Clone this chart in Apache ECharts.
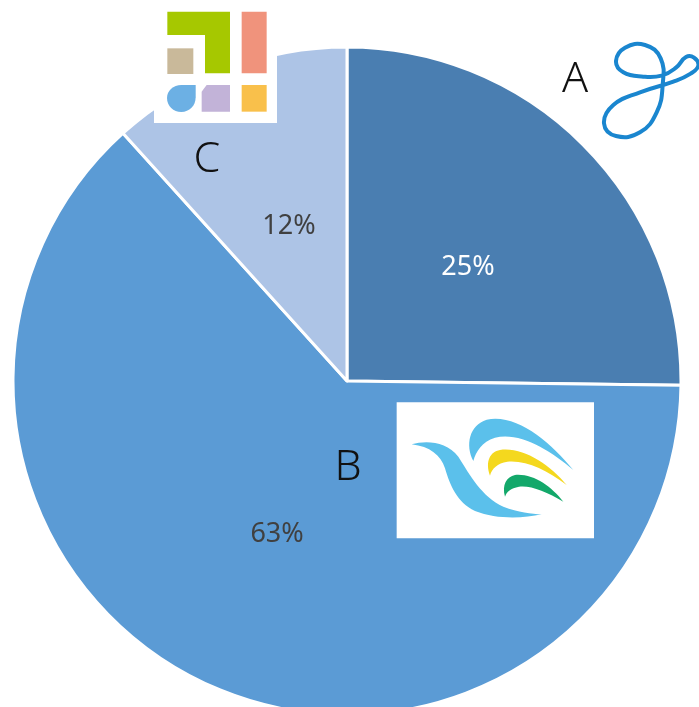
<!DOCTYPE html>
<html><head><meta charset="utf-8">
<script src="https://cdn.jsdelivr.net/npm/echarts@6/dist/echarts.min.js"></script>
<style>html,body{margin:0;padding:0;background:#fff;}#c{width:699px;height:707px;}</style>
</head><body><div id="c"></div>
<script>
var categories = ['A', 'B', 'C'];
var values = [25.2, 63.1, 11.7];
var sliceColors = ['#4a7eb1', '#5b9bd5', '#adc4e6'];
var labelColors = ['#ffffff', '#404040', '#404040'];
var labelOffsets = [[0, 6], [0, -2], [3, 4]];

var chart = echarts.init(document.getElementById('c'));
var data = categories.map(function (c, i) {
  return { name: c, value: values[i], itemStyle: { color: sliceColors[i] },
    label: { color: labelColors[i], offset: labelOffsets[i] } };
});

function logoC() {
  return { type: 'group', x: 150, y: 0, scaleX: 1 / 3, scaleY: 1 / 3, children: [
    { type: 'rect', shape: { x: 12, y: 0, width: 369, height: 369 }, style: { fill: '#ffffff' } },
    { type: 'polygon', shape: { points: [[52,35],[240,35],[240,220],[165,220],[165,105],[52,105]] }, style: { fill: '#a6c800' } },
    { type: 'rect', shape: { x: 275, y: 35, width: 75, height: 185 }, style: { fill: '#f0937c' } },
    { type: 'rect', shape: { x: 52, y: 145, width: 78, height: 77 }, style: { fill: '#c9b99a' } },
    { type: 'path', shape: { pathData: 'M137,255 L137,292 C137,318 118,336 94,336 C70,336 51,318 51,294 C51,272 70,255 94,255 Z' }, style: { fill: '#6cb0e4' } },
    { type: 'path', shape: { pathData: 'M170,255 L240,255 L240,335 L155,335 L155,275 C160,268 165,262 170,255 Z' }, style: { fill: '#c2b3d8' } },
    { type: 'rect', shape: { x: 275, y: 255, width: 75, height: 80 }, style: { fill: '#f9c04b' } }
  ]};
}
function logoA() {
  var pts = [[100,112],[160,125],[215,122],[258,98],[288,66],[312,68],[325,92],[302,116],[250,140],[150,172],[70,210],[42,265],[78,303],[150,292],[200,232],[218,150],[212,70],[165,30],[105,38],[78,78]];
  return { type: 'group', x: 590, y: 35, scaleX: 1 / 3, scaleY: 1 / 3, children: [
    { type: 'polygon', shape: { points: pts, smooth: 0.45 },
      style: { fill: 'none', stroke: '#1a86cf', lineWidth: 12 } }
  ]};
}
function logoB() {
  return { type: 'group', x: 390, y: 395, scaleX: 1 / 3, scaleY: 1 / 3, children: [
    { type: 'rect', shape: { x: 20, y: 22, width: 592, height: 408 }, style: { fill: '#ffffff' } },
    { type: 'path', shape: { pathData: 'M65,148 C110,135 170,140 205,185 C240,240 275,305 340,335 C385,352 425,356 455,358 C400,370 320,374 255,348 C200,322 180,270 165,220 C152,180 120,155 65,148 Z' }, style: { fill: '#5bc0eb' } },
    { type: 'path', shape: { pathData: 'M250,198 C225,150 238,90 290,74 C380,55 480,140 550,225 C480,165 390,110 315,128 C275,140 258,170 250,198 Z' }, style: { fill: '#5bc0eb' } },
    { type: 'path', shape: { pathData: 'M300,242 C285,200 300,170 330,165 C400,155 480,210 530,270 C470,225 410,195 352,200 C322,205 306,220 300,242 Z' }, style: { fill: '#f4d81e' } },
    { type: 'path', shape: { pathData: 'M345,305 C335,270 350,245 375,240 C430,235 485,275 520,320 C470,290 420,270 387,275 C362,280 350,290 345,305 Z' }, style: { fill: '#13a86a' } }
  ]};
}
var catPos = [[575, 80], [348, 468], [207, 160]];
var catTexts = categories.map(function (c, i) {
  return { type: 'text', x: catPos[i][0], y: catPos[i][1],
    style: { text: c, font: '300 43px "Noto Sans"', fill: '#111111', textAlign: 'center', textVerticalAlign: 'middle' } };
});

chart.setOption({
  animation: false,
  series: [{
    type: 'pie',
    center: [347, 381],
    radius: [0, 334],
    startAngle: 90,
    clockwise: true,
    data: data,
    itemStyle: { borderColor: '#ffffff', borderWidth: 3 },
    label: { show: true, position: 'inside', fontFamily: 'Noto Sans', fontSize: 27,
      formatter: function (p) { return Math.round(p.percent) + '%'; } },
    labelLine: { show: false },
    emphasis: { disabled: true }
  }, {
    type: 'custom',
    coordinateSystem: 'none',
    silent: true,
    z: 10,
    data: [0],
    renderItem: function () {
      return { type: 'group', children: [logoC(), logoA(), logoB()].concat(catTexts) };
    }
  }]
});
</script>
</body></html>
